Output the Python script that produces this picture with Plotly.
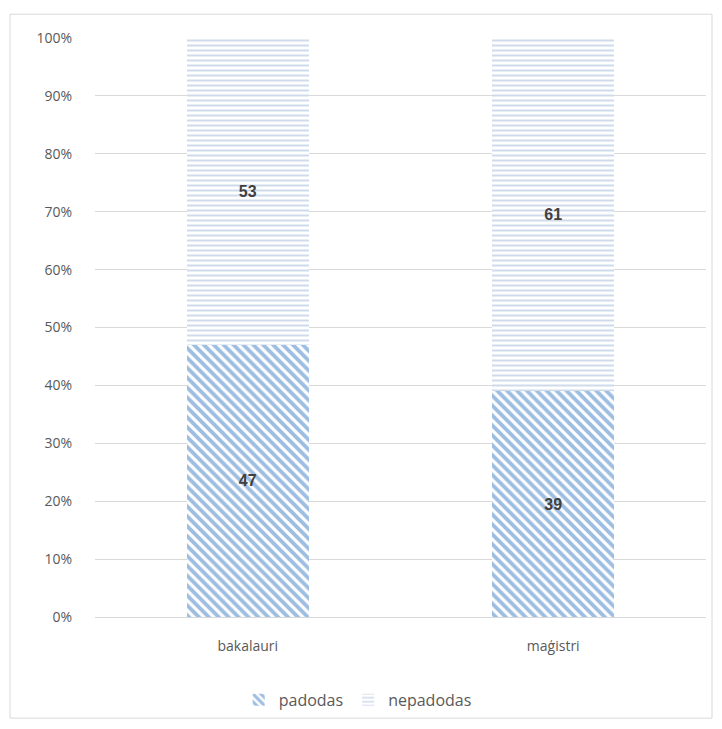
import plotly.graph_objects as go

categories = ["bakalauri", "maģistri"]
padodas = [47, 39]
nepadodas = [53, 61]
tick_vals = [0, 10, 20, 30, 40, 50, 60, 70, 80, 90, 100]
tick_text = ["0%", "10%", "20%", "30%", "40%", "50%", "60%", "70%", "80%", "90%", "100%"]

W, H = 722, 729
L, R, T, B = 95, 16, 38, 107
pw, ph = W - L - R, H - T - B

label_font = dict(family="Liberation Sans, Arial", size=16, color="#404040",
                  weight="bold")

fig = go.Figure()
fig.add_trace(go.Bar(
    name="padodas", x=categories, y=padodas,
    text=padodas, texttemplate="%{text}", textposition="inside",
    insidetextanchor="middle", textfont=label_font,
    marker=dict(color="white", line=dict(width=0),
                pattern=dict(shape="\\", fgcolor="#3b7cc4", bgcolor="white",
                             size=7, solidity=0.55, fillmode="overlay")),
))
fig.add_trace(go.Bar(
    name="nepadodas", x=categories, y=nepadodas,
    text=nepadodas, texttemplate="%{text}", textposition="inside",
    insidetextanchor="middle", textfont=label_font,
    marker=dict(color="white", line=dict(width=0),
                pattern=dict(shape="-", fgcolor="#9fb8d6", bgcolor="white",
                             size=5, solidity=0.4, fillmode="overlay")),
))

# outer frame of the chart
fig.add_shape(type="rect", xref="paper", yref="paper",
              x0=(10 - L) / pw, x1=(712 - L) / pw,
              y0=(H - B - 724) / ph, y1=(H - B - 14) / ph,
              line=dict(color="#d9d9d9", width=1), fillcolor="rgba(0,0,0,0)",
              layer="below")

fig.update_layout(
    width=W, height=H,
    margin=dict(l=L, r=R, t=T, b=B),
    paper_bgcolor="white", plot_bgcolor="white",
    barmode="stack", bargap=0.6,
    font=dict(family="Open Sans, DejaVu Sans", size=13, color="#595959"),
    xaxis=dict(showgrid=False, showline=True, linecolor="#d9d9d9", linewidth=1,
               ticks="", tickfont=dict(size=14, color="#595959"),
               ticklabelstandoff=16),
    yaxis=dict(range=[0, 100], tickmode="array", tickvals=tick_vals,
               ticktext=tick_text,
               showgrid=True, gridcolor="#d9d9d9", gridwidth=1,
               zeroline=False, showline=False, ticks="",
               tickfont=dict(size=14, color="#595959"),
               ticklabelstandoff=22),
    legend=dict(orientation="h", x=0.43, xanchor="center", y=-0.143,
                yanchor="middle", font=dict(size=16, color="#595959"),
                traceorder="normal"),
    showlegend=True,
)

fig.write_html("out.html")
